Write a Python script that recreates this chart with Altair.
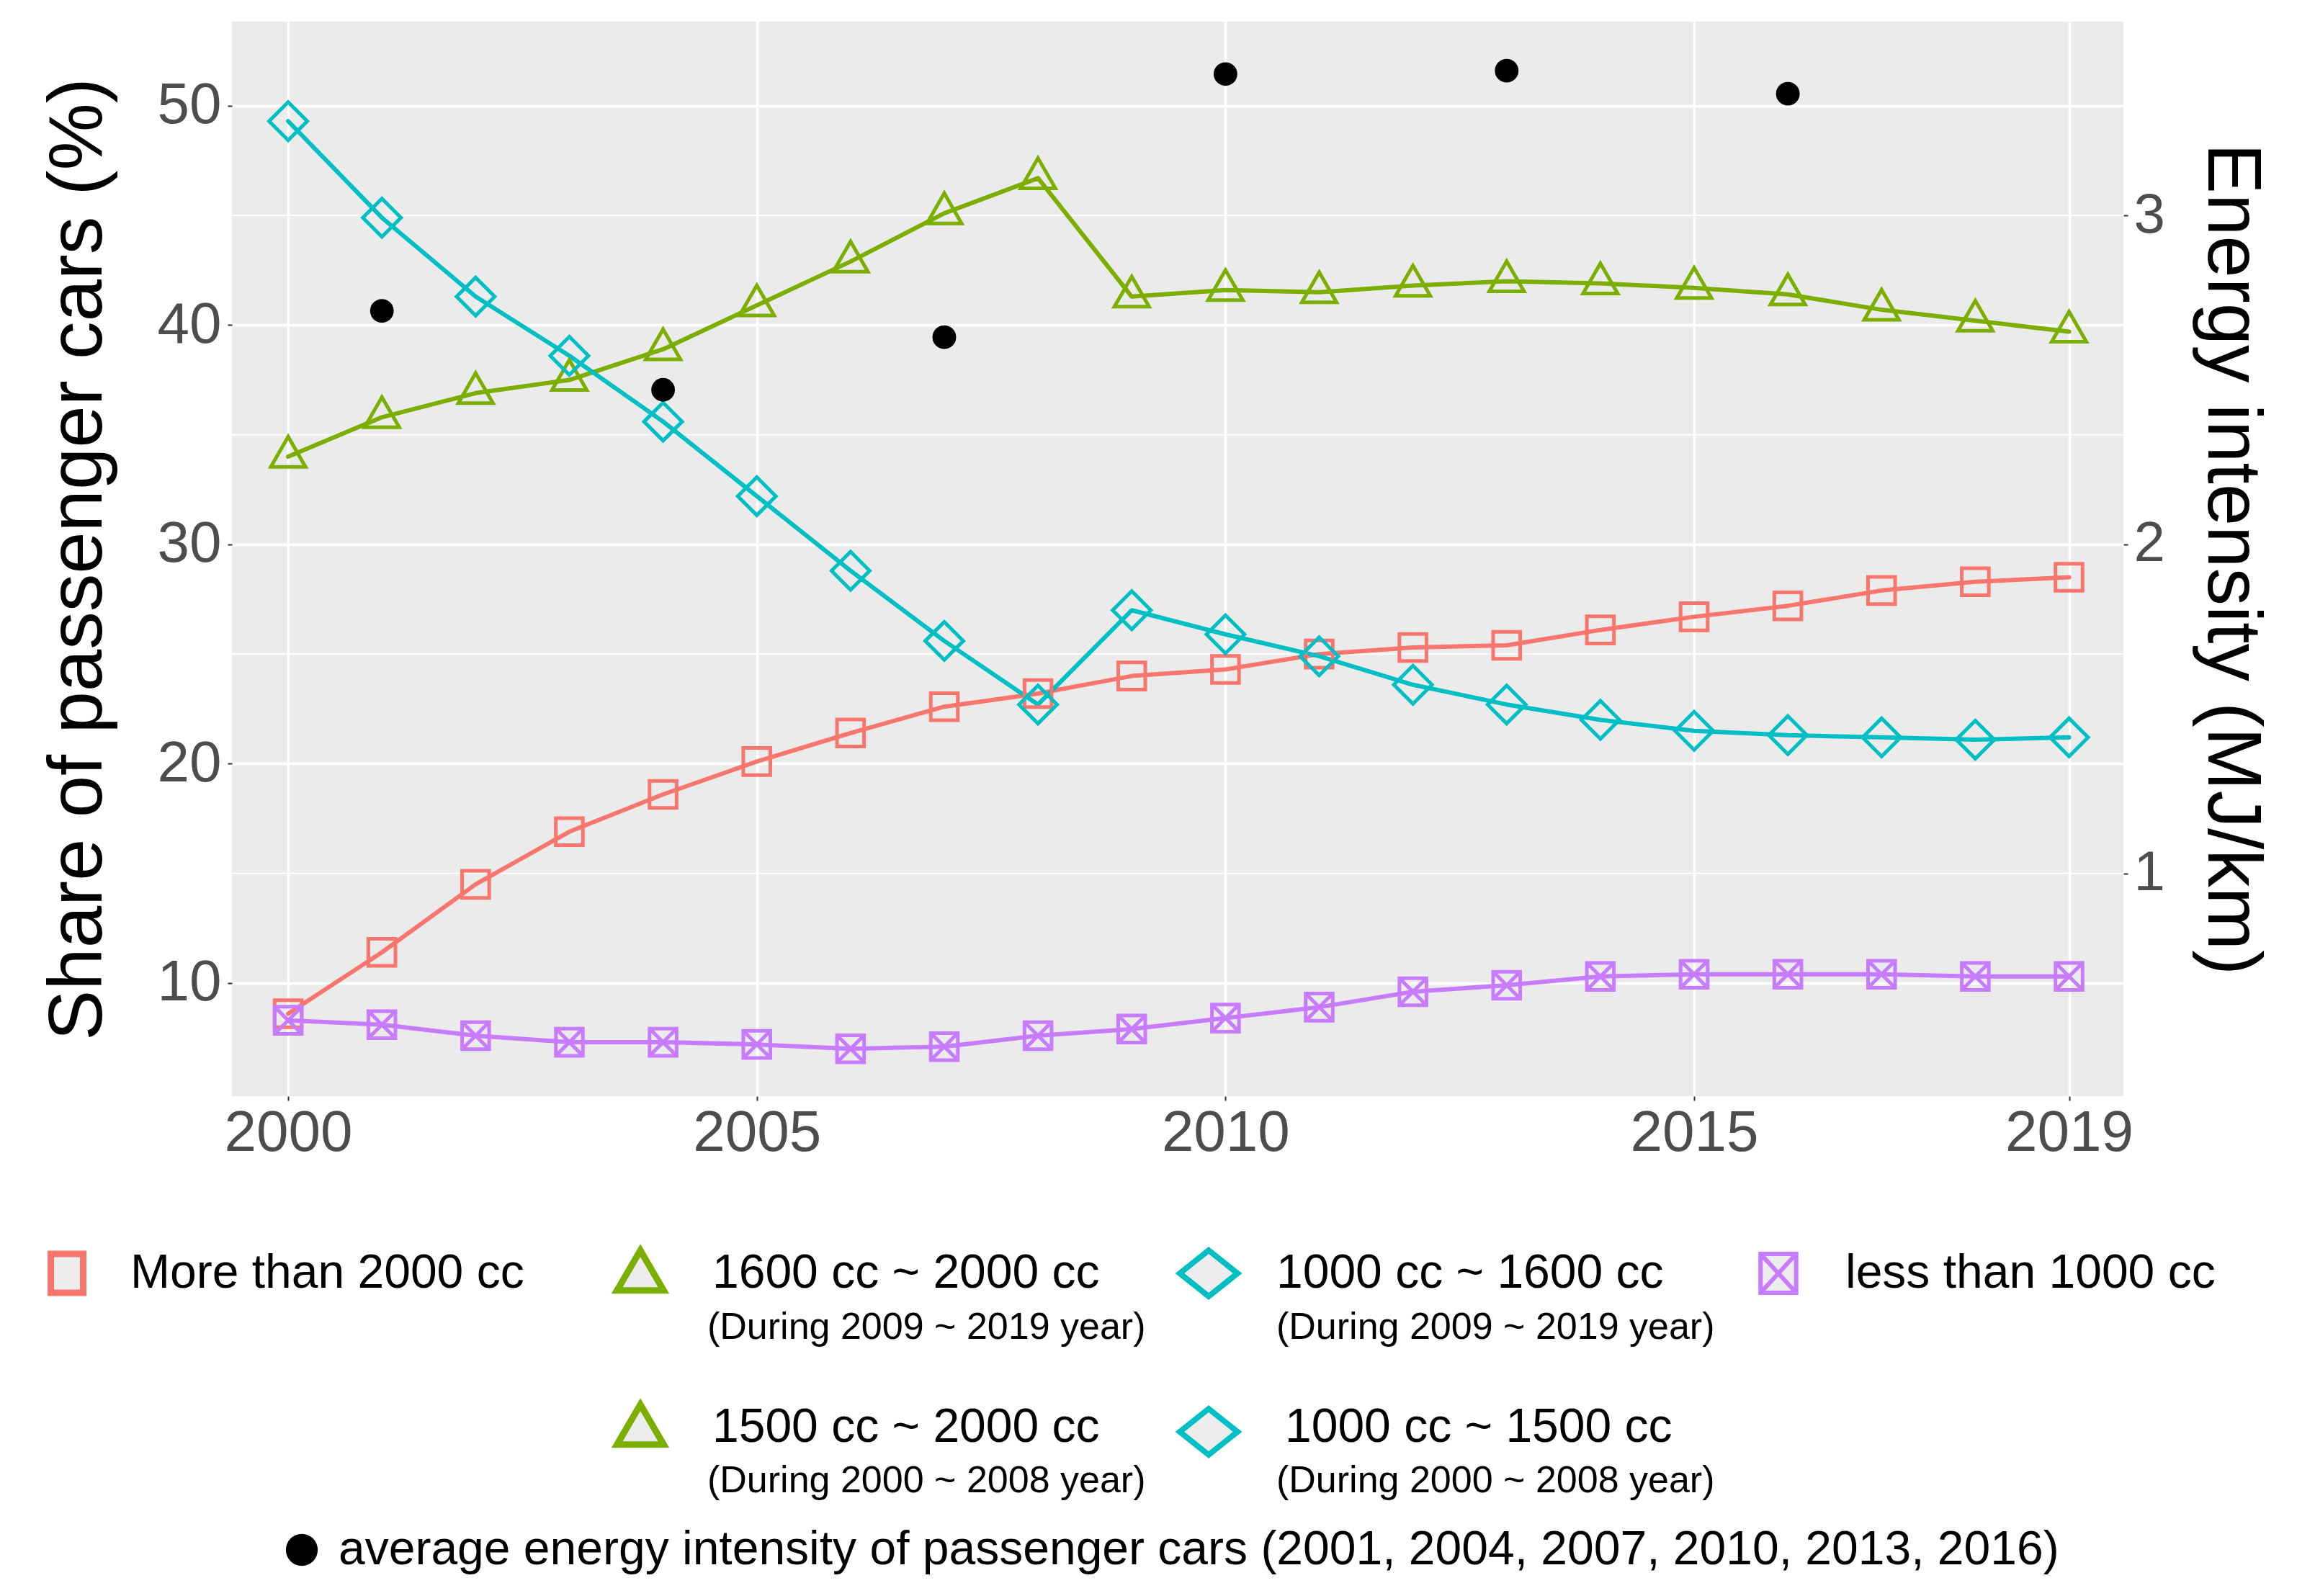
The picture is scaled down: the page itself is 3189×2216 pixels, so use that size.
import altair as alt
import pandas as pd

# ---------------- data ----------------
years = list(range(2000, 2020))
series_names = ["More than 2000 cc", "1500/1600 cc ~ 2000 cc",
                "1000 cc ~ 1500/1600 cc", "less than 1000 cc"]
more_than_2000 = [8.6, 11.4, 14.5, 16.9, 18.6, 20.1, 21.4, 22.6, 23.2, 24.0,
                  24.3, 25.0, 25.3, 25.4, 26.1, 26.7, 27.2, 27.9, 28.3, 28.5]
cc_1500_2000 = [34.0, 35.8, 36.9, 37.5, 38.9, 40.9, 42.9, 45.1, 46.7, 41.3,
                41.6, 41.5, 41.8, 42.0, 41.9, 41.7, 41.4, 40.7, 40.2, 39.7]
cc_1000_1500 = [49.3, 44.9, 41.3, 38.6, 35.6, 32.2, 28.8, 25.6, 22.7, 27.0,
                25.9, 24.9, 23.6, 22.7, 22.0, 21.5, 21.3, 21.2, 21.1, 21.2]
less_than_1000 = [8.3, 8.1, 7.6, 7.3, 7.3, 7.2, 7.0, 7.1, 7.6, 7.9,
                  8.4, 8.9, 9.6, 9.9, 10.3, 10.4, 10.4, 10.4, 10.3, 10.3]
energy_years = [2001, 2004, 2007, 2010, 2013, 2016]
energy_intensity = [2.71, 2.47, 2.63, 3.43, 3.44, 3.37]

x_ticks = [2000, 2005, 2010, 2015, 2019]
left_ticks = [10, 20, 30, 40, 50]
left_minor = [15, 25, 35, 45]
right_ticks = [1, 2, 3]

legend_main = ["More than 2000 cc", "1600 cc ~ 2000 cc", "1000 cc ~ 1600 cc",
               "less than 1000 cc", "1500 cc ~ 2000 cc", "1000 cc ~ 1500 cc"]
legend_sub = ["(During 2009 ~ 2019 year)", "(During 2000 ~ 2008 year)"]
legend_energy = "average energy intensity of passenger cars (2001, 2004, 2007, 2010, 2013, 2016)"

# ---------------- styles ----------------
FONT = "Liberation Sans"
colors = ["#F8766D", "#7CAE00", "#00BFC4", "#C77CFF"]
SQ = "M-0.71,-0.71L0.71,-0.71L0.71,0.71L-0.71,0.71Z"
TRI = "M0,-1.05L0.91,0.53L-0.91,0.53Z"
DIA = "M-1,0L0,-1L1,0L0,1Z"
SQX = "M-0.71,-0.71L0.71,-0.71L0.71,0.71L-0.71,0.71Z M-0.71,-0.71L0.71,0.71 M0.71,-0.71L-0.71,0.71"
shapes = [SQ, TRI, DIA, SQX]

rows = []
for name, vals in zip(series_names, [more_than_2000, cc_1500_2000, cc_1000_1500, less_than_1000]):
    for yr, v in zip(years, vals):
        rows.append({"year": yr, "share": v, "series": name})
df = pd.DataFrame(rows)
energy_df = pd.DataFrame({"year": energy_years, "intensity": energy_intensity})
minor_df = pd.DataFrame({"share": left_minor})
dummy = pd.DataFrame({"k": [0]})

W, H = 2626, 1492
x_scale = alt.Scale(domain=[1999.4, 2019.58], nice=False, zero=False)
y_scale = alt.Scale(domain=[4.84, 53.84], nice=False, zero=False)
y2_scale = alt.Scale(domain=[4.84 / 15, 53.84 / 15], nice=False, zero=False)
color_scale = alt.Scale(domain=series_names, range=colors)
shape_scale = alt.Scale(domain=series_names, range=shapes)

x_axis = alt.Axis(values=x_ticks, format="d", title=None, grid=True, gridColor="white",
                  gridWidth=3.5, domain=False, tickColor="#333333", tickSize=6, tickWidth=2,
                  labelFontSize=80, labelColor="#4D4D4D", labelPadding=6,
                  labelFlush=False, labelOverlap=False)
y_axis = alt.Axis(values=left_ticks, title="Share of passenger cars (%)", grid=True,
                  gridColor="white", gridWidth=3.5, domain=False, tickColor="#333333",
                  tickSize=6, tickWidth=2, labelFontSize=80, labelColor="#4D4D4D",
                  labelPadding=9, labelOverlap=False, titleFontSize=105,
                  titleFontWeight="normal", titleColor="black", titlePadding=56)
y2_axis = alt.Axis(orient="right", values=right_ticks, title="Energy intensity (MJ/km)",
                   grid=False, domain=False, tickColor="#333333", tickSize=6, tickWidth=2,
                   labelFontSize=78, labelColor="#4D4D4D", labelPadding=8,
                   labelOverlap=False, titleFontSize=105, titleFontWeight="normal",
                   titleColor="black", titlePadding=38)

x_enc = alt.X("year:Q", scale=x_scale, axis=x_axis)
y_enc = alt.Y("share:Q", scale=y_scale, axis=y_axis)

minor = alt.Chart(minor_df).mark_rule(color="white", strokeWidth=1.8).encode(y=y_enc)

lines = alt.Chart(df).mark_line(interpolate="linear", strokeWidth=6,
                                strokeJoin="round", strokeCap="round").encode(
    x=x_enc, y=y_enc,
    color=alt.Color("series:N", scale=color_scale, legend=None),
)
points = alt.Chart(df).mark_point(filled=False, strokeWidth=5, size=2800, opacity=1).encode(
    x=x_enc, y=y_enc,
    color=alt.Color("series:N", scale=color_scale, legend=None),
    shape=alt.Shape("series:N", scale=shape_scale, legend=None),
)
left = alt.layer(minor, lines, points)

energy = alt.Chart(energy_df).mark_circle(color="black", size=1075, opacity=1).encode(
    x=x_enc,
    y=alt.Y("intensity:Q", scale=y2_scale, axis=y2_axis),
)

# ---------------- manual legend ----------------
def txt(x, y, s, size):
    return alt.Chart(dummy).mark_text(align="left", baseline="middle", fontSize=size,
                                      color="black", font=FONT).encode(
        x=alt.value(x), y=alt.value(y), text=alt.value(s))


def sym(x, y, shape, color, size, sw):
    return alt.Chart(dummy).mark_point(shape=shape, size=size, fill="#EDEDED", fillOpacity=1,
                                       stroke=color, strokeWidth=sw, opacity=1).encode(
        x=alt.value(x), y=alt.value(y))


LTRI = "M0,-0.86L1,0.86L-1,0.86Z"
LDIA = "M-1,0L0,-0.8L1,0L0,0.8Z"
LSQ = "M-0.5,-0.6L0.5,-0.6L0.5,0.6L-0.5,0.6Z"
LSQX = "M-0.55,-0.6L0.55,-0.6L0.55,0.6L-0.55,0.6Z M-0.55,-0.6L0.55,0.6 M0.55,-0.6L-0.55,0.6"

r1, r1s, r2, r2s, r3 = 1738, 1813, 1952, 2026, 2122
legend_layers = [
    sym(-229, r1, LSQ, colors[0], 8100, 9),
    txt(-141, r1, legend_main[0], 66),
    sym(567, r1 - 4, LTRI, colors[1], 4200, 9),
    txt(667, r1, legend_main[1], 66),
    txt(660, r1s, legend_sub[0], 52),
    sym(1356, r1, LDIA, colors[2], 6400, 8),
    txt(1450, r1, legend_main[2], 66),
    txt(1450, r1s, legend_sub[0], 52),
    sym(2147, r1, LSQX, colors[3], 8100, 6),
    txt(2240, r1, legend_main[3], 66),
    sym(567, r2 - 4, LTRI, colors[1], 4200, 9),
    txt(667, r2, legend_main[4], 66),
    txt(660, r2s, legend_sub[1], 52),
    sym(1356, r2 + 6, LDIA, colors[2], 6400, 8),
    txt(1462, r2, legend_main[5], 66),
    txt(1450, r2s, legend_sub[1], 52),
    alt.Chart(dummy).mark_circle(color="black", size=1960, opacity=1).encode(
        x=alt.value(97), y=alt.value(r3)),
    txt(148, r3, legend_energy, 66),
]

chart = alt.layer(left, energy, *legend_layers).resolve_scale(y="independent").properties(
    width=W, height=H,
    padding={"left": 314, "top": 22, "right": 225, "bottom": 680},
    autosize=alt.AutoSizeParams(type="none"),
).configure(font=FONT).configure_view(fill="#EBEBEB", stroke=None)

chart.save("out.html", embed_options={"renderer": "svg", "actions": False})
